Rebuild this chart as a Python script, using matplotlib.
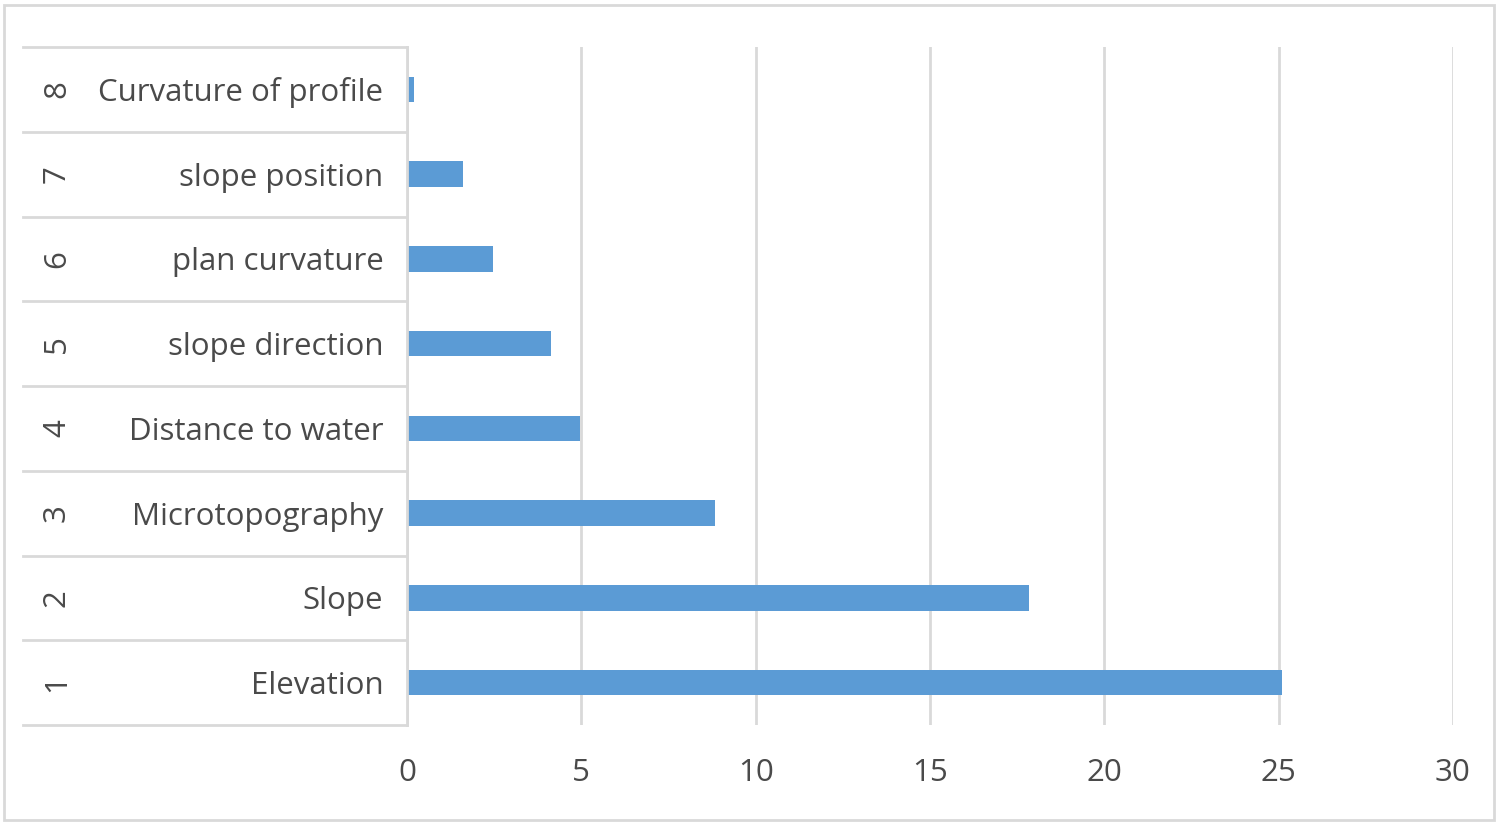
import matplotlib.pyplot as plt
from matplotlib.patches import Rectangle

# dữ liệu
ranks = [1, 2, 3, 4, 5, 6, 7, 8]
factors = ["Elevation", "Slope", "Microtopography", "Distance to water",
           "slope direction", "plan curvature", "slope position", "Curvature of profile"]
importance = [25.1, 17.85, 8.82, 4.97, 4.12, 2.47, 1.62, 0.2]
x_ticks = [0, 5, 10, 15, 20, 25, 30]

bar_color = "#5B9BD5"
grid_color = "#D9D9D9"
text_color = "#4A4A4A"
fs = 22.5

plt.rcParams['font.family'] = ['Open Sans', 'DejaVu Sans']

W, H = 1500, 824
fig = plt.figure(figsize=(W / 100, H / 100), dpi=100)

# khung ngoài
fig.patches.append(Rectangle((4 / W, 4 / H), 1490 / W, 815 / H, transform=fig.transFigure,
                             fill=False, edgecolor=grid_color, linewidth=2))

x0, x1, y_top, y_bot = 407, 1453, 47, 725
ax = fig.add_axes([x0 / W, (H - y_bot) / H, (x1 - x0) / W, (y_bot - y_top) / H])
pos = list(range(len(factors)))
ax.barh(pos, importance, height=0.3, color=bar_color, zorder=3)
ax.set_xlim(0, 30)
ax.set_ylim(-0.5, len(factors) - 0.5)
ax.set_xticks(x_ticks)
ax.set_xticklabels([str(t) for t in x_ticks], fontsize=fs, color=text_color)
ax.tick_params(axis='x', length=0, pad=24)
ax.set_yticks(pos)
ax.set_yticklabels(factors, fontsize=fs, color=text_color)
ax.tick_params(axis='y', length=0, pad=17)
ax.grid(axis='x', color=grid_color, linewidth=2, zorder=0)
for s in ["top", "right", "bottom"]:
    ax.spines[s].set_visible(False)
ax.spines["left"].set_color(grid_color)
ax.spines["left"].set_linewidth(2)
ax.spines["left"].set_zorder(4)

# trục phân cấp bên trái (số thứ tự)
lax = fig.add_axes([23 / W, (H - y_bot) / H, (x0 - 23) / W, (y_bot - y_top) / H])
lax.set_xlim(0, 1)
lax.set_ylim(-0.5, len(factors) - 0.5)
lax.axis("off")
for i, r in enumerate(ranks):
    lax.text(34 / (x0 - 23), i, str(r), rotation=90, ha="center", va="center",
             fontsize=fs, color=text_color)
for b in range(len(factors) + 1):
    lax.axhline(b - 0.5, color=grid_color, linewidth=2, clip_on=False)

fig.savefig("out.png", dpi=100)
